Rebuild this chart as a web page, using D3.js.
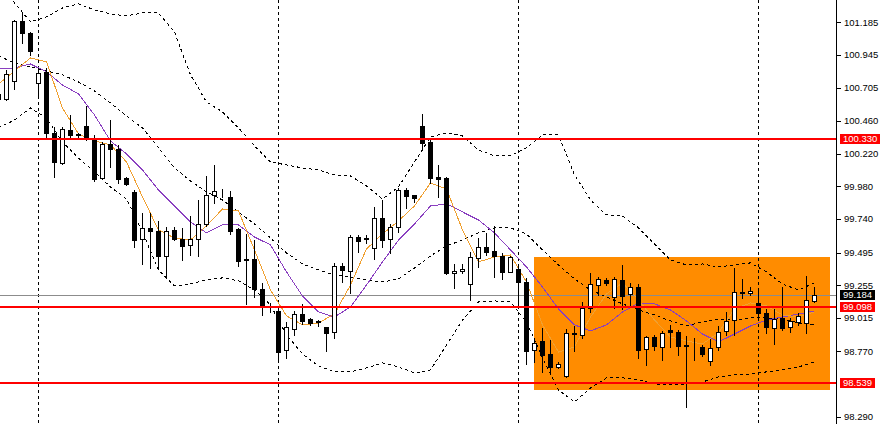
<!DOCTYPE html>
<html><head><meta charset="utf-8">
<script src="https://cdn.jsdelivr.net/npm/d3@7"></script>
<style>
body{margin:0;background:#fff}
svg{display:block}
text{font-family:"Liberation Sans",Arial,sans-serif;font-size:9.5px}
</style>
</head><body>
<svg id="chart" width="881" height="424"></svg>
<script>
// ---- data (H1 bars) ----
const opens=[100.659,100.625,100.757,101.197,101.109,100.738,100.823,100.371,100.155,100.395,100.365,100.424,100.334,100.040,100.292,100.253,100.040,99.940,99.593,99.676,99.656,99.472,99.661,99.593,99.549,99.593,99.703,99.918,99.943,99.905,99.668,99.448,99.448,99.226,99.113,99.066,98.780,98.932,99.042,99.008,98.989,98.947,98.910,99.397,99.362,99.612,99.602,99.527,99.751,99.593,99.685,99.954,99.916,100.424,100.309,100.048,100.040,99.343,99.358,99.262,99.453,99.538,99.507,99.470,99.355,99.372,99.281,98.780,98.848,98.751,98.657,98.589,98.903,98.890,99.086,99.255,99.294,99.167,99.294,99.189,99.245,98.785,98.873,98.804,98.927,98.914,98.813,98.802,98.804,98.699,98.804,98.920,99.000,99.204,99.196,99.123,99.054,98.939,99.013,98.947,98.988,98.980,99.142];
const highs=[100.688,100.835,101.202,101.259,101.116,100.850,100.850,100.419,100.419,100.505,100.375,100.571,100.358,100.309,100.468,100.285,100.048,99.954,99.788,99.788,99.727,99.681,99.681,99.678,99.766,99.881,100.057,100.138,99.962,99.947,99.673,99.629,99.587,99.272,99.123,99.098,98.988,99.069,99.118,99.015,99.000,98.951,99.421,99.421,99.624,99.624,99.624,99.832,99.881,99.705,99.967,99.967,99.920,100.512,100.321,100.138,100.048,99.411,99.411,99.502,99.600,99.641,99.690,99.490,99.472,99.391,99.306,98.866,98.944,98.853,98.694,98.934,98.956,99.130,99.347,99.318,99.306,99.318,99.404,99.270,99.262,98.883,98.890,98.922,98.964,98.927,98.883,98.866,98.817,98.859,98.956,99.061,99.380,99.299,99.240,99.220,99.079,99.079,99.240,99.013,99.049,99.323,99.245];
const lows=[100.608,100.615,100.696,101.036,100.945,100.637,100.336,100.048,100.145,100.334,100.327,100.321,100.023,100.037,100.125,100.008,99.991,99.538,99.411,99.380,99.380,99.314,99.587,99.441,99.477,99.470,99.690,99.861,99.905,99.629,99.397,99.118,99.167,99.037,99.061,98.692,98.719,98.890,98.971,98.964,98.958,98.775,98.870,99.281,99.201,99.502,99.568,99.446,99.538,99.494,99.648,99.820,99.869,100.248,100.004,99.905,99.338,99.233,99.343,99.147,99.391,99.477,99.318,99.299,99.349,99.110,98.677,98.694,98.621,98.604,98.646,98.582,98.775,98.870,99.061,99.184,99.257,99.086,99.079,99.110,98.719,98.670,98.780,98.707,98.800,98.743,98.364,98.707,98.736,98.670,98.780,98.890,98.890,99.160,99.184,99.013,98.903,98.822,98.927,98.914,98.964,98.907,99.135];
const closes=[100.622,100.806,101.195,101.105,100.977,100.811,100.371,100.162,100.400,100.358,100.356,100.334,100.035,100.292,100.253,100.033,99.996,99.587,99.673,99.656,99.472,99.656,99.593,99.543,99.593,99.703,99.918,99.947,99.940,99.656,99.436,99.441,99.226,99.103,99.108,98.768,98.947,99.044,98.995,98.976,98.986,98.907,99.397,99.367,99.607,99.582,99.598,99.747,99.587,99.685,99.954,99.910,99.896,100.297,100.040,100.035,99.347,99.362,99.372,99.460,99.534,99.502,99.472,99.355,99.460,99.281,98.775,98.834,98.743,98.657,98.677,98.903,98.895,99.086,99.262,99.299,99.270,99.299,99.179,99.240,98.780,98.873,98.809,98.903,98.912,98.809,98.809,98.798,98.751,98.797,98.914,98.995,99.204,99.196,99.215,99.049,98.947,99.008,98.939,98.993,99.030,99.147,99.184];

// indicator lines, sampled every second bar (bars 0,2,4,...,102)
const maFast=[100.732,100.828,100.923,100.894,100.556,100.365,100.314,100.285,100.160,99.903,99.661,99.602,99.587,99.690,99.815,99.800,99.514,99.220,99.030,98.964,98.978,99.044,99.257,99.521,99.631,99.727,99.837,100.006,99.962,99.661,99.426,99.463,99.477,99.279,98.964,98.765,98.802,99.022,99.191,99.272,99.147,99.000,98.875,98.846,98.824,98.905,99.081,99.125,99.103,99.037,99.022,99.059];
const maSlow=[100.843,100.850,100.879,100.821,100.725,100.659,100.505,100.314,100.219,100.101,99.954,99.837,99.720,99.639,99.698,99.698,99.609,99.551,99.353,99.176,99.059,99.022,99.096,99.257,99.426,99.587,99.705,99.837,99.852,99.793,99.734,99.639,99.514,99.389,99.242,99.081,98.964,98.920,98.964,99.059,99.125,99.118,99.074,98.993,98.897,98.839,98.897,98.956,99.000,99.022,99.044,99.066];
const bandUpper=[101.533,101.327,101.188,101.224,101.290,101.320,101.276,101.246,101.232,101.254,101.254,101.114,100.799,100.600,100.527,100.410,100.277,100.160,100.138,100.116,100.101,100.065,100.057,99.984,99.888,99.976,100.160,100.343,100.373,100.351,100.248,100.204,100.204,100.263,100.358,100.358,100.065,99.881,99.771,99.764,99.676,99.558,99.441,99.404,99.411,99.389,99.404,99.419,99.353,99.264,99.220,99.272];
const bandMiddle=[100.938,100.887,100.857,100.828,100.799,100.747,100.681,100.593,100.498,100.410,100.263,100.116,100.020,99.940,99.881,99.793,99.705,99.602,99.492,99.411,99.367,99.330,99.316,99.294,99.279,99.301,99.382,99.470,99.543,99.587,99.639,99.676,99.676,99.631,99.514,99.404,99.301,99.220,99.169,99.118,99.074,99.037,98.993,98.956,98.986,99.008,99.000,99.015,99.015,99.008,98.978,98.964];
const bandLower=[100.410,100.468,100.556,100.483,100.307,100.189,100.087,99.976,99.888,99.646,99.367,99.250,99.264,99.294,99.309,99.287,99.220,99.110,98.890,98.751,98.663,98.619,98.619,98.648,98.685,98.655,98.611,98.633,98.817,99.000,99.132,99.140,99.132,98.986,98.721,98.486,98.398,98.501,98.575,98.575,98.560,98.530,98.523,98.530,98.545,98.582,98.597,98.604,98.619,98.633,98.655,98.692];

const yTicks=[101.185,100.945,100.705,100.460,100.220,99.980,99.740,99.495,99.255,99.015,98.770,98.290];
const levels=[100.330,99.098,98.539];
const lastPrice=99.184;
const separatorBars=[5,35,65,95];
const zoneBars=[67,104];
const zonePrices=[99.460,98.481];

// ---- drawing ----
const W=881,H=424,plotR=836;
const svg=d3.select("#chart");
const x=d3.scaleLinear().domain([0,102]).range([-2,814]);
const y=d3.scaleLinear().domain([98.290,101.185]).range([416.7,22.3]);
const lineIdx=d3.range(0,103,2);

svg.append("defs").append("clipPath").attr("id","plot")
  .append("rect").attr("x",0).attr("y",0).attr("width",plotR).attr("height",H);
const g=svg.append("g").attr("clip-path","url(#plot)");

// zone rectangle
g.append("rect")
  .attr("x",Math.round(x(zoneBars[0])))
  .attr("y",Math.round(y(zonePrices[0])))
  .attr("width",Math.round(x(zoneBars[1])-x(zoneBars[0])))
  .attr("height",Math.round(y(zonePrices[1])-y(zonePrices[0])))
  .attr("fill","#FF8C00").attr("shape-rendering","crispEdges");

// period separators
g.selectAll("line.sep").data(separatorBars).join("line").attr("class","sep")
  .attr("x1",d=>Math.round(x(d))+0.5).attr("x2",d=>Math.round(x(d))+0.5)
  .attr("y1",0).attr("y2",H)
  .attr("stroke","#000").attr("stroke-width",1).attr("stroke-dasharray","3,3")
  .attr("shape-rendering","crispEdges");

// last price line
g.append("line").attr("x1",0).attr("x2",plotR)
  .attr("y1",Math.round(y(lastPrice))+0.5).attr("y2",Math.round(y(lastPrice))+0.5)
  .attr("stroke","#8c8c8c").attr("stroke-width",1).attr("shape-rendering","crispEdges");

const mkLine=d3.line().x((d,i)=>x(lineIdx[i])+0.5).y(d=>y(d));
[bandUpper,bandMiddle,bandLower].forEach(arr=>{
  g.append("path").attr("d",mkLine(arr)).attr("fill","none")
   .attr("stroke","#000").attr("stroke-width",1).attr("stroke-dasharray","3,3")
   .attr("shape-rendering","crispEdges");
});
g.append("path").attr("d",mkLine(maSlow)).attr("fill","none")
  .attr("stroke","#8a3fc0").attr("stroke-width",1).attr("shape-rendering","crispEdges");
g.append("path").attr("d",mkLine(maFast)).attr("fill","none")
  .attr("stroke","#f0a030").attr("stroke-width",1).attr("shape-rendering","crispEdges");

// candles
const bars=opens.map((o,i)=>({i,o,h:highs[i],l:lows[i],c:closes[i]}));
const cg=g.append("g").attr("shape-rendering","crispEdges");
cg.selectAll("line.wick").data(bars).join("line").attr("class","wick")
  .attr("x1",d=>Math.round(x(d.i))+0.5).attr("x2",d=>Math.round(x(d.i))+0.5)
  .attr("y1",d=>Math.round(y(d.h))).attr("y2",d=>Math.round(y(d.l))+1)
  .attr("stroke","#000").attr("stroke-width",1);
cg.selectAll("rect.body").data(bars).join("rect").attr("class","body")
  .attr("x",d=>Math.round(x(d.i))-1.5)
  .attr("y",d=>Math.round(y(Math.max(d.o,d.c)))+0.5)
  .attr("width",4)
  .attr("height",d=>Math.max(0,Math.round(y(Math.min(d.o,d.c)))-Math.round(y(Math.max(d.o,d.c)))))
  .attr("fill",d=>d.c<d.o?"#000":"#fff")
  .attr("stroke","#000").attr("stroke-width",1);

// horizontal levels
g.selectAll("line.lvl").data(levels).join("line").attr("class","lvl")
  .attr("x1",0).attr("x2",plotR)
  .attr("y1",d=>Math.round(y(d))).attr("y2",d=>Math.round(y(d)))
  .attr("stroke","#ff0000").attr("stroke-width",2).attr("shape-rendering","crispEdges");

// right axis
const ax=svg.append("g").attr("shape-rendering","crispEdges");
ax.append("line").attr("x1",plotR+0.5).attr("x2",plotR+0.5).attr("y1",0).attr("y2",H)
  .attr("stroke","#000");
ax.selectAll("line.tk").data(yTicks).join("line").attr("class","tk")
  .attr("x1",plotR+1).attr("x2",plotR+5)
  .attr("y1",d=>Math.round(y(d))+0.5).attr("y2",d=>Math.round(y(d))+0.5)
  .attr("stroke","#000");
svg.selectAll("text.tl").data(yTicks).join("text").attr("class","tl")
  .attr("x",plotR+8).attr("y",d=>y(d)).attr("dy","0.35em")
  .attr("fill","#000").text(d=>d.toFixed(3));

// price labels
const tags=levels.map(v=>({v,bg:"#ff0000"})).concat([{v:lastPrice,bg:"#000"}]);
tags.forEach(t=>{
  const yy=Math.round(y(t.v));
  const tg=svg.append("g");
  const txt=tg.append("text").attr("x",plotR+7).attr("y",yy).attr("dy","0.35em")
    .attr("fill","#fff").text(t.v.toFixed(3));
  const w=txt.node().getBBox().width;
  tg.insert("rect","text").attr("x",plotR+4).attr("y",yy-5).attr("width",w+6).attr("height",10)
    .attr("fill",t.bg).attr("shape-rendering","crispEdges");
});
</script>
</body></html>
